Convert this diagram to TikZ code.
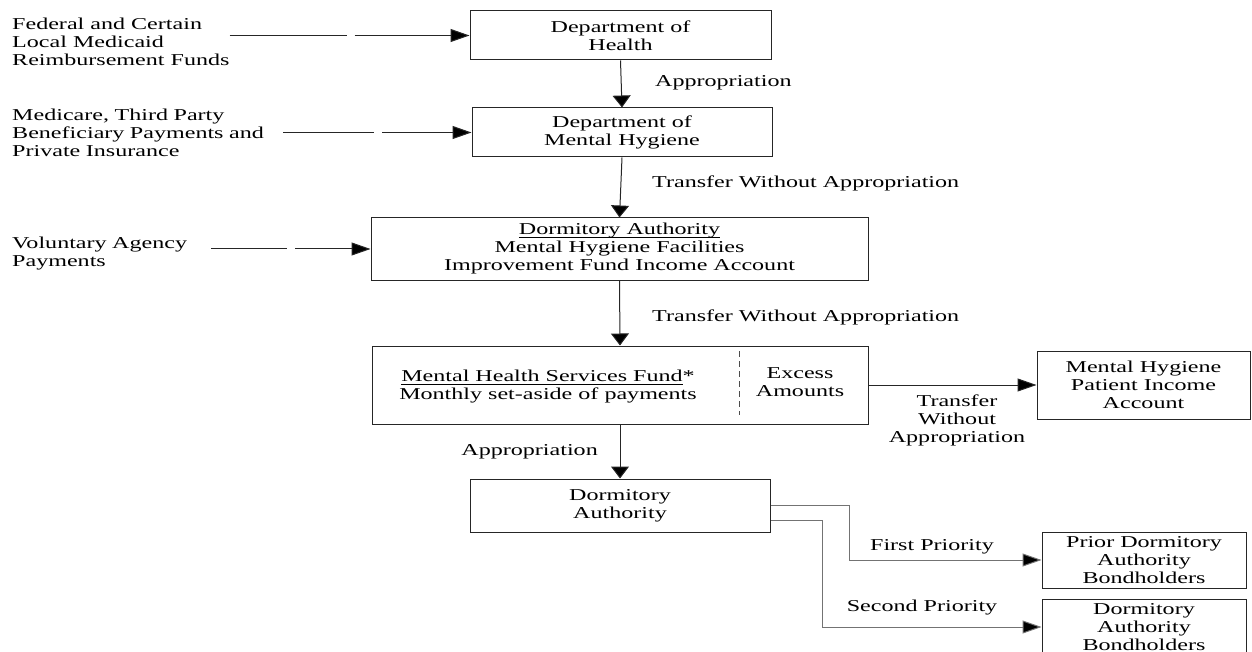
\documentclass[tikz,border=0pt]{standalone}
\usepackage{fontspec}
\setmainfont[FakeStretch=1.45]{Liberation Serif}
\usetikzlibrary{arrows.meta}
\newcommand\undl[1]{\sbox0{#1}\rlap{\rule[-2.5pt]{\wd0}{0.9pt}}\usebox0}

\begin{document}
\begin{tikzpicture}[x=1pt,y=1pt,yscale=-1,xscale=1,
  font=\fontsize{16.6}{18}\selectfont,
  box/.style={draw=black!85,line width=1pt,inner sep=0pt,align=center},
  src/.style={anchor=west,inner sep=0pt,align=left},
  lbl/.style={inner sep=0pt,align=center},
  flow/.style={draw=black!85,line width=1pt},
  vtip/.style={flow,-{Triangle[length=12pt,width=18pt,fill=black]}},
  htip/.style={flow,-{Triangle[length=19pt,width=13pt,fill=black]}},
  brk/.style={htip,dash pattern={on #1 off 8pt on 1000pt}},
  divider/.style={draw=black!70,line width=1pt,dash pattern=on 6pt off 4pt}]
\useasboundingbox (0,0) rectangle (1252,652);

%Shape: Rectangle [Department of Health]
\node[box,minimum width=301pt,minimum height=49pt] (doh) at (620.5,35.5) {Department of\\Health};
%Shape: Rectangle [Department of Mental Hygiene]
\node[box,minimum width=300pt,minimum height=49pt] (dmh) at (622,132.5) {Department of\\Mental Hygiene};
%Shape: Rectangle [Income Account]
\node[box,minimum width=497pt,minimum height=62pt] (da) at (619.5,249) {\undl{Dormitory Authority}\\Mental Hygiene Facilities\\Improvement Fund Income Account};
%Shape: Rectangle [Services Fund, split]
\node[box,minimum width=496pt,minimum height=78pt] (mhsf) at (620,385) {};
\draw[divider] (739,351) -- (739,415);
% Text Node
\node[lbl] (fund) at (548,387) {\undl{Mental Health Services Fund}*\\Monthly set-aside of payments};
% Text Node
\node[lbl] (excess) at (800,382) {Excess\\Amounts};
%Shape: Rectangle [lower Dormitory Authority]
\node[box,minimum width=300pt,minimum height=53pt] (dal) at (620,505.5) {Dormitory\\Authority};
%Shape: Rectangle [Patient Income Account]
\node[box,minimum width=213pt,minimum height=68pt] (mhp) at (1143.5,385) {Mental Hygiene\\Patient Income\\Account};
%Shape: Rectangle [bondholders]
\node[box,minimum width=204pt,minimum height=56pt] (pdab) at (1144,560) {Prior Dormitory\\Authority\\Bondholders};
\node[box,minimum width=204pt,minimum height=56pt] (dab) at (1144,627) {Dormitory\\Authority\\Bondholders};

% Text Node [sources]
\node[src] (fed) at (12,42) {Federal and Certain\\Local Medicaid\\Reimbursement Funds};
\node[src,text width=271pt] (med) at (12,133) {Medicare, Third Party\\Beneficiary Payments and\\Private Insurance};
\node[src,text width=199pt] (vol) at (12,254) {Voluntary Agency\\Payments};

%Straight Lines [broken feeds]
\draw[brk=117pt] (fed.east |- doh.west) -- (doh.west);
\draw[brk=91pt] (med.east |- dmh.west) -- (dmh.west);
\draw[brk=76pt] (vol.east |- da.west) -- (da.west);

%Straight Lines [main flow]
\draw[vtip] (doh.south) -- (dmh.north);
\draw[vtip] (dmh.south) -- (da.north);
\draw[vtip] (da.south) -- (mhsf.north);
\draw[vtip] (mhsf.south) -- (dal.north);
\draw[htip] (mhsf.east) -- (mhp.west);
\draw[htip,draw=black!55] (dal.east) -- (849,505.5) |- (pdab.west);
\draw[htip,draw=black!55] (dal.east |- 0,520) -- (822,520) |- (dab.west);

% Text Node
\node[lbl,anchor=west] (appr1) at (655,83) {Appropriation};
% Text Node
\node[lbl,anchor=west] (twa1) at (652,183) {Transfer Without Appropriation};
% Text Node
\node[lbl,anchor=west] (twa2) at (652,317) {Transfer Without Appropriation};
% Text Node
\node[lbl,anchor=east] (appr2) at (598,452) {Appropriation};
% Text Node
\node[lbl] (twa3) at (957,420) {Transfer\\Without\\Appropriation};
% Text Node
\node[lbl] (first) at (932,547) {First Priority};
% Text Node
\node[lbl] (second) at (922,608) {Second Priority};

\end{tikzpicture}
\end{document}
